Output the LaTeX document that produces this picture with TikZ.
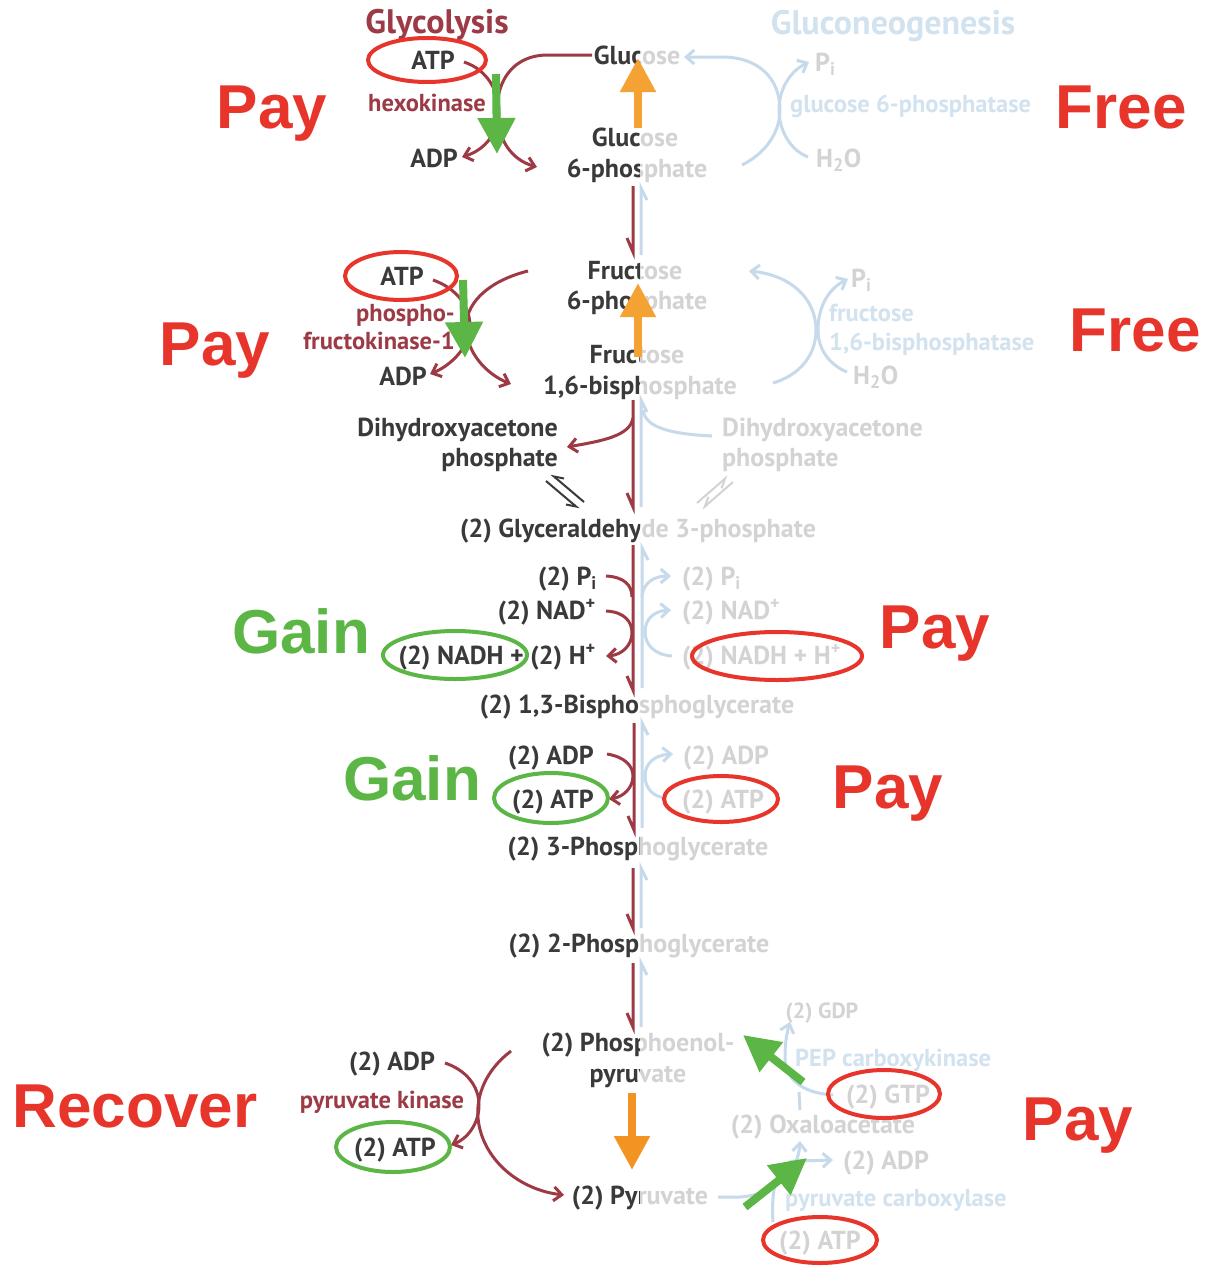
\documentclass[tikz,border=0pt]{standalone}
\usepackage{fontspec}
\setmainfont{PT Sans}
\newfontfamily\bigf{Liberation Sans}
\usetikzlibrary{arrows.meta}
\definecolor{txt}{HTML}{3A3A3A}
\definecolor{enzred}{HTML}{9C3A45}
\definecolor{arrred}{HTML}{9E3A44}
\definecolor{bluel}{HTML}{C6DAEB}
\definecolor{bluet}{HTML}{D2E2EF}
\definecolor{callred}{HTML}{E8352B}
\definecolor{grn}{HTML}{5CB646}
\definecolor{orng}{HTML}{F5A235}
\definecolor{orng2}{HTML}{F39322}
\begin{document}
\begin{tikzpicture}[x=1pt,y=-1pt,
  lbl/.style={font=\fontsize{26}{30}\selectfont\bfseries, text=txt, inner sep=0pt},
  small/.style={font=\fontsize{22}{26}\selectfont\bfseries, text=txt, inner sep=0pt},
  enz/.style={font=\fontsize{24.5}{28}\selectfont\bfseries, text=enzred, inner sep=0pt},
  enzb/.style={font=\fontsize{24.5}{28}\selectfont\bfseries, text=bluet, inner sep=0pt},
  ttl/.style={font=\fontsize{34}{38}\selectfont\bfseries, inner sep=0pt},
  big/.style={font=\bigf\fontsize{62}{70}\selectfont\bfseries, inner sep=0pt},
  rline/.style={draw=arrred, line width=3pt},
  rarr/.style={rline, -{Straight Barb[length=8pt,width=14pt]}},
  bline/.style={draw=bluel, line width=3pt},
  barr/.style={bline, -{Straight Barb[length=8pt,width=14pt]}},
  harp/.style={draw=txt, line width=2pt, -{Straight Barb[harpoon,swap,length=9pt,width=10pt]}},
  callr/.style={draw=callred, line width=4pt},
  callg/.style={draw=grn, line width=4pt},
  garr/.style={draw=grn, line width=8pt, -{Triangle[length=36pt,width=36pt]}},
  oarr/.style={draw=orng, line width=8pt, -{Triangle[length=34pt,width=34pt]}},
  oarrb/.style={draw=orng2, line width=8pt, -{Triangle[length=34pt,width=34pt]}}
]
\useasboundingbox (0,0) rectangle (1205,1266);
\fill[white] (0,0) rectangle (1205,1266);

% ---------- titles ----------
\node[ttl, text=enzred, anchor=base] (tgly) at (437,33) {Glycolysis};

% ---------- metabolites (dark; right half faded by overlay) ----------
\node[lbl, anchor=base] (glc) at (637,64) {Glucose};
\node[lbl, anchor=base] (g6pa) at (635,146) {Glucose};
\node[lbl, anchor=base] (g6pb) at (637,177) {6-phosphate};
\node[lbl, anchor=base] (f6pa) at (635,279) {Fructose};
\node[lbl, anchor=base] (f6pb) at (637,309) {6-phosphate};
\node[lbl, anchor=base] (fbpa) at (637,363) {Fructose};
\node[lbl, anchor=base] (fbpb) at (640,394) {1,6-bisphosphate};
\node[lbl, anchor=base east] (dhapa) at (558,436) {Dihydroxyacetone};
\node[lbl, anchor=base east] (dhapb) at (558,466) {phosphate};
\node[lbl, anchor=base west] (dhapra) at (722,436) {Dihydroxyacetone};
\node[lbl, anchor=base west] (dhaprb) at (722,466) {phosphate};
\node[lbl, anchor=base] (gap) at (638,537) {(2) Glyceraldehyde 3-phosphate};
\node[lbl, anchor=base east] (pi1) at (597,585) {(2) P\textsubscript{i}};
\node[lbl, anchor=base east] (nad1) at (596,619) {(2) NAD\textsuperscript{+}};
\node[lbl, anchor=base east] (nadh1) at (596,664) {(2) NADH + (2) H\textsuperscript{+}};
\node[lbl, anchor=base west] (pi2) at (682,585) {(2) P\textsubscript{i}};
\node[lbl, anchor=base west] (nad2) at (682,619) {(2) NAD\textsuperscript{+}};
\node[lbl, anchor=base west] (nadh2) at (682,664) {(2) NADH + H\textsuperscript{+}};
\node[lbl, anchor=base] (bpg) at (637,713) {(2) 1,3-Bisphosphoglycerate};
\node[lbl, anchor=base east] (adp3) at (594,764) {(2) ADP};
\node[lbl, anchor=base east] (atp3) at (594,808) {(2) ATP};
\node[lbl, anchor=base west] (adp4) at (683,764) {(2) ADP};
\node[lbl, anchor=base west] (atp4) at (682,808) {(2) ATP};
\node[lbl, anchor=base] (pg3) at (638,855) {(2) 3-Phosphoglycerate};
\node[lbl, anchor=base] (pg2) at (639,952) {(2) 2-Phosphoglycerate};
\node[lbl, anchor=base] (pepa) at (638,1051) {(2) Phosphoenol-};
\node[lbl, anchor=base] (pepb) at (638,1082) {pyruvate};
\node[lbl, anchor=base] (adp5) at (392,1070) {(2) ADP};
\node[lbl, anchor=base] (atp5) at (395,1156) {(2) ATP};
\node[lbl, anchor=base] (pyr) at (640,1204) {(2) Pyruvate};
\node[lbl, anchor=base] (atp1) at (433,69) {ATP};
\node[lbl, anchor=base] (adp1) at (434,167) {ADP};
\node[lbl, anchor=base] (atp2) at (402,285) {ATP};
\node[lbl, anchor=base] (adp2) at (403,385) {ADP};
\node[lbl, anchor=base] (oaa) at (823,1133) {(2) Oxaloacetate};
\node[small, anchor=base] (gdp) at (822,1018) {(2) GDP};
\node[lbl, anchor=base] (gtp) at (888,1103) {(2) GTP};
\node[lbl, anchor=base] (adp6) at (886,1169) {(2) ADP};
\node[lbl, anchor=base] (atp6) at (820,1249) {(2) ATP};
\node[lbl, anchor=base west] (pia) at (815,71) {P\textsubscript{i}};
\node[lbl, anchor=base west] (h2oa) at (816,167) {H\textsubscript{2}O};
\node[lbl, anchor=base west] (pib) at (851,287) {P\textsubscript{i}};
\node[lbl, anchor=base west] (h2ob) at (853,384) {H\textsubscript{2}O};

% ---------- enzymes (glycolysis) ----------
\node[enz, anchor=base] (hk) at (427,111) {hexokinase};
\node[enz, anchor=base east] (pfka) at (455,321) {phospho-};
\node[enz, anchor=base east] (pfkb) at (455,349) {fructokinase-1};
\node[enz, anchor=base] (pk) at (382,1108) {pyruvate kinase};

% ---------- glycolysis arrows ----------
\draw[rarr] (592,55) -- (548,55) .. controls (512,55) and (497,82) .. (497,110) .. controls (497,140) and (512,160) .. (537,167);
\draw[rarr] (464,62) .. controls (488,70) and (499,92) .. (499,112) .. controls (499,132) and (485,150) .. (462,157);
\draw[rarr] (528,271) .. controls (492,280) and (467,300) .. (466,326) .. controls (466,352) and (486,374) .. (511,384);
\draw[rarr] (433,280) .. controls (456,288) and (470,306) .. (470,326) .. controls (470,346) and (452,365) .. (430,374);
\draw[rline] (633,186) -- (633,252) -- (627,238);
\draw[rline] (633,400) -- (633,507) -- (627,493);
\draw[rarr] (633,418) .. controls (630,436) and (602,441) .. (567,447);
\draw[harp] (546,481) -- (579,509);
\draw[harp] (584,502) -- (551,474);
\draw[harp] (697,503) -- (728,476);
\draw[harp] (733,482) -- (702,509);
\draw[rline] (633,545) -- (633,690) -- (627,676);
\draw[rline] (606,576) .. controls (624,577) and (632,585) .. (632,597);
\draw[rarr] (606,611) .. controls (625,612) and (632,622) .. (632,633) .. controls (632,645) and (622,655) .. (606,656);
\draw[rline] (634,723) -- (634,830) -- (628,816);
\draw[rarr] (607,754) .. controls (625,757) and (633,766) .. (633,776) .. controls (633,788) and (623,797) .. (609,799);
\draw[rline] (633,868) -- (633,928) -- (627,914);
\draw[rline] (633,963) -- (633,1027) -- (627,1013);
\draw[rarr] (511,1051) .. controls (486,1070) and (476,1095) .. (478,1118) .. controls (482,1160) and (520,1190) .. (564,1195);
\draw[rarr] (445,1063) .. controls (466,1070) and (479,1086) .. (479,1105) .. controls (479,1124) and (467,1139) .. (451,1145);

% ---------- fade of the right half ----------
\fill[white, fill opacity=0.78] (640,-1) rectangle (1206,1267);

% ---------- gluconeogenesis ----------
\node[ttl, text=bluet, anchor=base] (tgng) at (893,34) {Gluconeogenesis};
\node[enzb, anchor=base west] (g6pase) at (790,112) {glucose 6-phosphatase};
\node[enzb, anchor=base west] (fbpasea) at (829,321) {fructose};
\node[enzb, anchor=base west] (fbpaseb) at (829,350) {1,6-bisphosphatase};
\node[enzb, anchor=base west] (pepck) at (795,1066) {PEP carboxykinase};
\node[enzb, anchor=base west] (pc) at (785,1206) {pyruvate carboxylase};

\draw[barr] (742,165) .. controls (768,152) and (780,130) .. (780,110) .. controls (780,78) and (758,57) .. (722,57) -- (684,57);
\draw[barr] (808,157) .. controls (790,150) and (779,130) .. (779,110) .. controls (779,90) and (789,72) .. (809,62);
\draw[bline] (647,200) -- (641,188) -- (641,255);
\draw[barr] (773,383) .. controls (800,375) and (816,355) .. (816,330) .. controls (816,298) and (790,275) .. (749,271);
\draw[barr] (847,372) .. controls (830,365) and (818,350) .. (818,330) .. controls (818,305) and (830,288) .. (848,279);
\draw[bline] (647,412) -- (641,400) -- (641,507);
\draw[bline] (712,436) .. controls (672,434) and (645,428) .. (643,410);
\draw[bline] (648,560) -- (642,548) -- (642,688);
\draw[barr] (642,597) .. controls (643,582) and (655,576) .. (671,576);
\draw[barr] (672,656) .. controls (655,655) and (645,645) .. (645,632) .. controls (645,618) and (655,611) .. (671,610);
\draw[bline] (648,735) -- (642,723) -- (642,828);
\draw[barr] (666,798) .. controls (652,797) and (645,787) .. (645,776) .. controls (645,763) and (655,755) .. (673,754);
\draw[bline] (647,880) -- (641,868) -- (641,928);
\draw[bline] (647,975) -- (641,963) -- (641,1027);
\draw[barr] (718,1197) -- (740,1197) .. controls (772,1195) and (798,1175) .. (800,1141);
\draw[barr] (773,1222) .. controls (771,1195) and (775,1162) .. (795,1161) -- (833,1160);
\draw[bline] (800,1110) -- (799,1092);
\draw[barr] (833,1095) .. controls (800,1093) and (785,1077) .. (785,1058) .. controls (785,1042) and (787,1032) .. (790,1022);

% ---------- annotations ----------
\draw[callr] (427,60) ellipse [x radius=59, y radius=22];
\draw[callr] (401,276) ellipse [x radius=56, y radius=24];
\draw[callr] (777,656) ellipse [x radius=85, y radius=24];
\draw[callr] (721,799) ellipse [x radius=57, y radius=23];
\draw[callr] (884,1094) ellipse [x radius=56, y radius=24];
\draw[callr] (820,1240) ellipse [x radius=57, y radius=23];
\draw[callg] (455,655) ellipse [x radius=72, y radius=24];
\draw[callg] (551,798) ellipse [x radius=57, y radius=25];
\draw[callg] (393,1147) ellipse [x radius=57, y radius=25];

\draw[garr] (496,74) -- (497,154);
\draw[garr] (463,280) -- (465,358);
\draw[garr] (803,1082) -- (743,1035);
\draw[garr] (745,1207) -- (807,1158);
\draw[oarr] (638,128) -- (638,58);
\draw[oarr] (638,357) -- (638,283);
\draw[oarrb] (632,1093) -- (632,1170);

\node[big, text=callred, anchor=base] (pay1) at (272,128) {Pay};
\node[big, text=callred, anchor=base] (free1) at (1121,128) {Free};
\node[big, text=callred, anchor=base] (pay2) at (215,365) {Pay};
\node[big, text=callred, anchor=base] (free2) at (1135,351) {Free};
\node[big, text=grn, anchor=base] (gain1) at (301,653) {Gain};
\node[big, text=callred, anchor=base] (pay3) at (935,648) {Pay};
\node[big, text=grn, anchor=base] (gain2) at (412,800) {Gain};
\node[big, text=callred, anchor=base] (pay4) at (888,808) {Pay};
\node[big, text=callred, anchor=base] (recover) at (135,1127) {Recover};
\node[big, text=callred, anchor=base] (pay5) at (1078,1140) {Pay};
\end{tikzpicture}
\end{document}
